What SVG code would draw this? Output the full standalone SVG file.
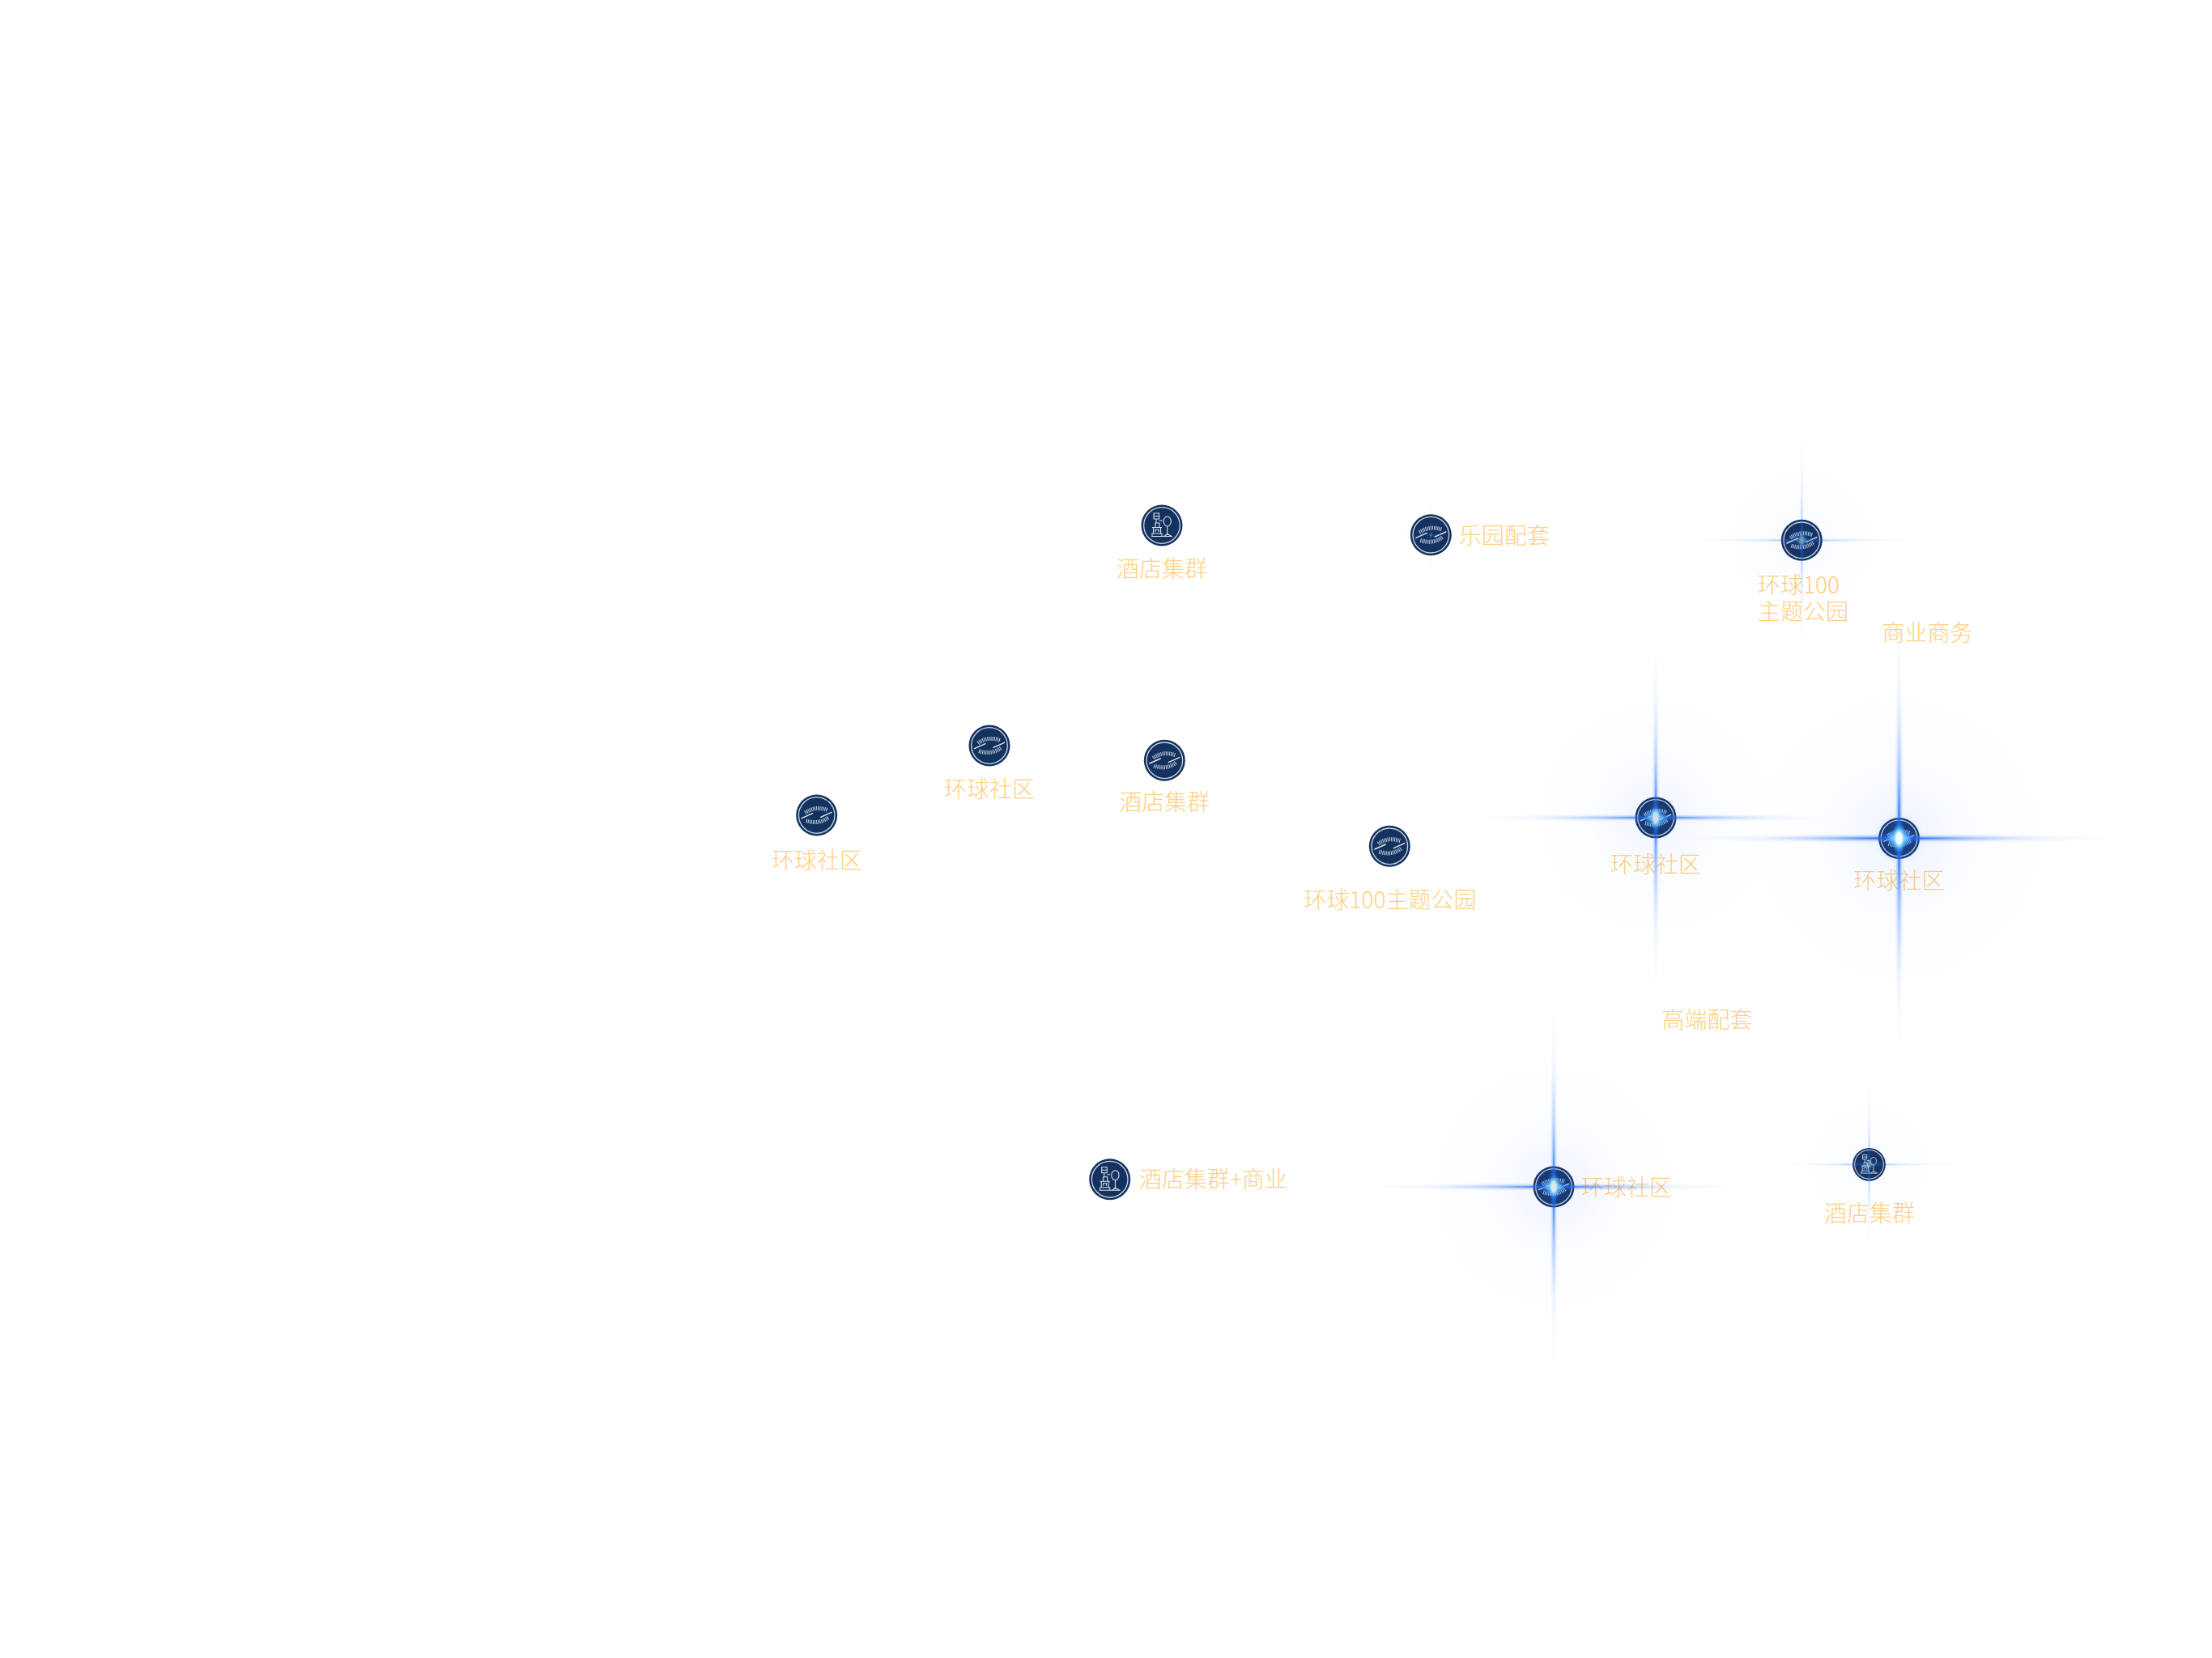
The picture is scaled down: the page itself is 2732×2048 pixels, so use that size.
<svg xmlns="http://www.w3.org/2000/svg" width="2732" height="2048" viewBox="0 0 2732 2048">
<style>
text{font-family:"Noto Sans CJK SC","Noto Sans",sans-serif;font-size:28px;font-weight:300;fill:#ffcf82}
.disc{fill:#14325f}
.ring{fill:none;stroke:#cfd6e1;stroke-width:1.3}
.hatch{fill:none;stroke:#c8d1de;stroke-width:5;stroke-dasharray:1 1.100}
.wing{fill:none;stroke:#e2e6ed;stroke-width:1.400;stroke-linecap:round}
.st{fill:none;stroke:#dde2ea;stroke-width:1.100}
</style>
<defs>
<radialGradient id="gRay"><stop offset="0" stop-color="#0f62ff"/><stop offset=".12" stop-color="#1a6cff" stop-opacity=".85"/><stop offset=".32" stop-color="#2e7bff" stop-opacity=".4"/><stop offset=".65" stop-color="#5b97ff" stop-opacity=".1"/><stop offset="1" stop-color="#8ab4ff" stop-opacity="0"/></radialGradient>
<radialGradient id="gGlow"><stop offset="0" stop-color="#1f6bff" stop-opacity=".32"/><stop offset=".16" stop-color="#3b7dff" stop-opacity=".07"/><stop offset=".5" stop-color="#6f9dff" stop-opacity=".025"/><stop offset="1" stop-color="#9dbcff" stop-opacity="0"/></radialGradient>
<radialGradient id="gCore"><stop offset="0" stop-color="#fff"/><stop offset=".35" stop-color="#e8fcff"/><stop offset=".6" stop-color="#5ec8ff" stop-opacity=".8"/><stop offset="1" stop-color="#1a6cff" stop-opacity="0"/></radialGradient>
<g id="flare">
<circle r="75" fill="url(#gGlow)"/>
<ellipse rx="105" ry="2.400" fill="url(#gRay)"/>
<ellipse rx="2.400" ry="102" fill="url(#gRay)"/>
<ellipse rx="7" ry="4" fill="url(#gCore)"/>
<ellipse rx="4" ry="7.500" fill="url(#gCore)"/>
</g>
<g id="disc"><circle class="disc" r="25.500"/><circle class="ring" r="22.300"/></g>
<g id="eye">
<use href="#disc"/>
<path class="hatch" d="M-14-3Q-2-12 13.500-6.500"/>
<path class="hatch" d="M14 3Q2 12-13.500 6.500"/>
<path class="wing" d="M-18.500 3.700L-5-2.300M18.500-3.700L5 2.300"/>
</g>
<g id="statue">
<use href="#disc"/>
<g class="st">
<ellipse cx="6.700" cy="-5" rx="4.600" ry="6"/>
<path d="M6.700 1V12M-13 13.500H13M3 13.500L6.700 10.500L12 13.500"/>
<path d="M-12 13.500V10H0V13.500M-10.500 10V2.500H-1.500V10M-12 2.500H0M-8 8V5H-4V8"/>
<path d="M-8 2.500V-3H-3V2.500M-10-8V-15H-3.500V-8ZM-10-11.500H-3.500M-7-8V-3M-3.500-6H.5"/>
</g>
</g>
</defs>
<rect width="2732" height="2048" fill="#fff"/>
<g id="node-1"><use href="#eye" x="1008.700" y="1007"/><text x="1009" y="1072.500" text-anchor="middle">环球社区</text></g>
<g id="node-2"><use href="#eye" x="1222" y="921"/><text x="1222" y="984.500" text-anchor="middle">环球社区</text></g>
<g id="node-3"><use href="#eye" x="1438.300" y="939.300"/><text x="1438.300" y="1000.700" text-anchor="middle">酒店集群</text></g>
<g id="node-4"><use href="#eye" x="1716.300" y="1045.300"/><text x="1717" y="1121.700" text-anchor="middle">环球100主题公园</text></g>
<g id="node-5"><use href="#statue" x="1435" y="649"/><text x="1435" y="712.700" text-anchor="middle">酒店集群</text></g>
<g id="node-6"><use href="#statue" x="1370.700" y="1456.700"/><text x="1407" y="1466.700">酒店集群+商业</text></g>
<g id="node-7"><use href="#eye" x="1767.300" y="660.700"/><use href="#flare" transform="translate(1767.300 660.700) scale(.5)" opacity=".3"/><text x="1802" y="671.500">乐园配套</text></g>
<g id="node-8"><text y="732.500"><tspan x="2171">环球100</tspan><tspan x="2171" dy="33.500">主题公园</tspan></text><use href="#eye" x="2225.300" y="667.300"/><use href="#flare" transform="translate(2225.300 667.300) scale(1.3)" opacity=".5"/></g>
<g id="node-9"><text x="2045" y="1077.700" text-anchor="middle">环球社区</text><use href="#eye" x="2045" y="1010"/><use href="#flare" transform="translate(2045 1010) scale(2.150)" opacity=".85"/></g>
<g id="node-10"><text x="2345.500" y="1097.700" text-anchor="middle">环球社区</text><use href="#eye" x="2345.500" y="1035.500"/><use href="#flare" transform="translate(2345.500 1035.500) scale(2.600)"/></g>
<g id="node-11"><text x="1953" y="1476.700">环球社区</text><use href="#eye" x="1919" y="1466"/><use href="#flare" transform="translate(1919 1466) scale(2.200)" opacity=".9"/></g>
<g id="node-12"><text x="2309" y="1508.700" text-anchor="middle">酒店集群</text><g transform="translate(2308.500 1438.300) scale(.8)"><use href="#statue"/></g><use href="#flare" transform="translate(2308.500 1438.300) scale(1.100)" opacity=".45"/></g>
<text id="label-biz" x="2324.500" y="791.500">商业商务</text>
<text id="label-high" x="2052.500" y="1269.500">高端配套</text>
</svg>
